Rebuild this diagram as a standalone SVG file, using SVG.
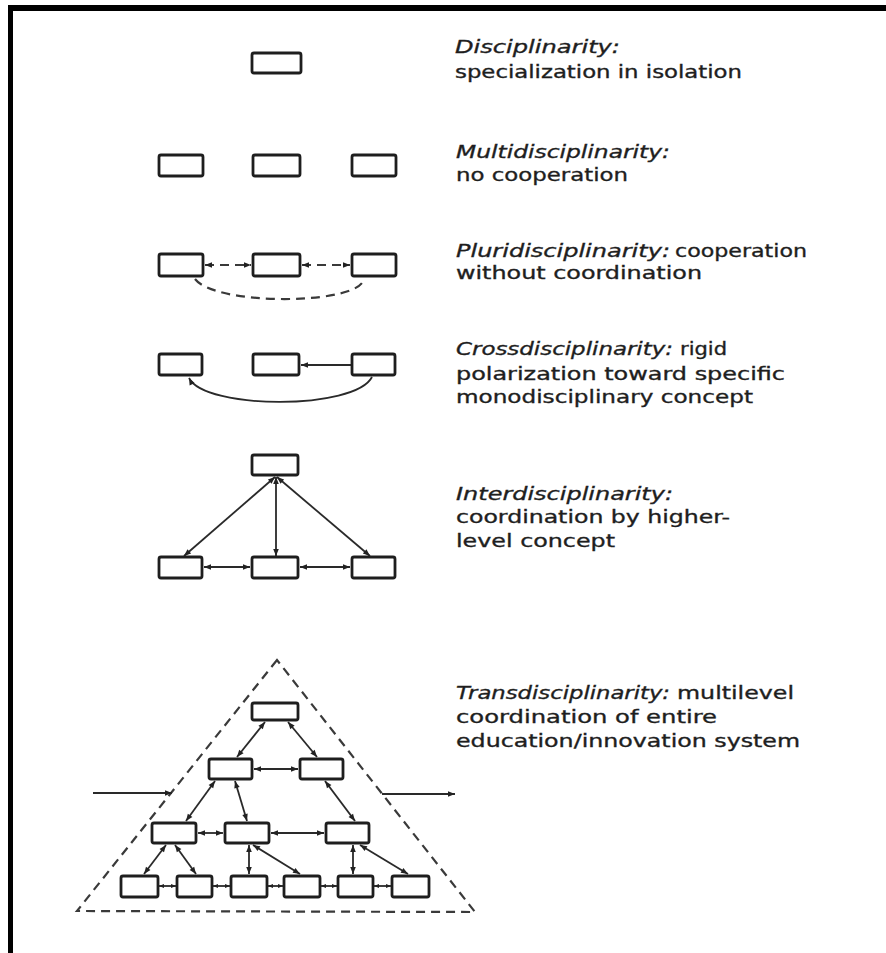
<svg xmlns="http://www.w3.org/2000/svg" width="886" height="953" viewBox="0 0 886 953">
<style>
.bx{fill:#fff;stroke:#1e1e1e;stroke-width:2.8}
.ln{fill:none;stroke:#2a2a2a;stroke-width:1.8}
.ds{fill:none;stroke:#3a3a3a;stroke-width:2.2;stroke-dasharray:9 6}
.t{font-family:"DejaVu Sans","Liberation Sans",sans-serif;font-size:18px;fill:#1e1e1e;stroke:#1e1e1e;stroke-width:0.35}
.i{font-style:italic}
</style>
<defs>
<marker id="ah" viewBox="0 0 10 10" refX="10" refY="5" markerWidth="9" markerHeight="7" markerUnits="userSpaceOnUse" orient="auto-start-reverse"><path d="M0,1 L10,5 L0,9 z" fill="#222"/></marker>
<marker id="as" viewBox="0 0 10 10" refX="10" refY="5" markerWidth="6" markerHeight="5" markerUnits="userSpaceOnUse" orient="auto-start-reverse"><path d="M0,1 L10,5 L0,9 z" fill="#222"/></marker>
</defs>
<rect width="886" height="953" fill="#fff"/>
<g id="frame">
<rect x="8" y="5" width="878" height="6" fill="#000"/>
<rect x="8" y="5" width="5" height="948" fill="#000"/>
</g>

<g id="connectors">
<!-- pluri -->
<line class="ds" x1="205" y1="265" x2="251" y2="265" stroke-dasharray="8 5" marker-start="url(#ah)" marker-end="url(#ah)"/>
<line class="ds" x1="302" y1="265" x2="350" y2="265" stroke-dasharray="8 5" marker-start="url(#ah)" marker-end="url(#ah)"/>
<path class="ds" d="M195,279 C215,305 345,305 362,283" stroke-dasharray="11 6"/>
<!-- cross -->
<line class="ln" x1="352" y1="365" x2="301" y2="365" marker-end="url(#ah)"/>
<path class="ln" d="M372,377 C355,410 205,410 189,378" stroke-width="2.2" marker-end="url(#ah)"/>
<!-- inter -->
<line class="ln" x1="275" y1="477" x2="184" y2="556" marker-start="url(#ah)" marker-end="url(#ah)"/>
<line class="ln" x1="276" y1="477" x2="276" y2="556" marker-start="url(#ah)" marker-end="url(#ah)"/>
<line class="ln" x1="277" y1="477" x2="370" y2="556" marker-start="url(#ah)" marker-end="url(#ah)"/>
<line class="ln" x1="204" y1="567" x2="250" y2="567" marker-start="url(#ah)" marker-end="url(#ah)"/>
<line class="ln" x1="300" y1="567" x2="350" y2="567" marker-start="url(#ah)" marker-end="url(#ah)"/>
<!-- trans -->
<path class="ds" d="M277,660 L77,911 L475,912 Z" stroke-dasharray="13 6"/>
<line class="ln" x1="93" y1="793" x2="172" y2="793" marker-end="url(#ah)"/>
<line class="ln" x1="382" y1="794" x2="455" y2="794" marker-end="url(#ah)"/>
<line class="ln" x1="265" y1="722" x2="237" y2="757" marker-start="url(#ah)" marker-end="url(#ah)"/>
<line class="ln" x1="288" y1="722" x2="317" y2="757" marker-start="url(#ah)" marker-end="url(#ah)"/>
<line class="ln" x1="254" y1="769" x2="298" y2="769" marker-start="url(#ah)" marker-end="url(#ah)"/>
<line class="ln" x1="215" y1="781" x2="186" y2="821" marker-start="url(#ah)" marker-end="url(#ah)"/>
<line class="ln" x1="235" y1="781" x2="247" y2="821" marker-start="url(#ah)" marker-end="url(#ah)"/>
<line class="ln" x1="325" y1="781" x2="355" y2="821" marker-start="url(#ah)" marker-end="url(#ah)"/>
<line class="ln" x1="198" y1="833" x2="223" y2="833" marker-start="url(#ah)" marker-end="url(#ah)"/>
<line class="ln" x1="271" y1="833" x2="324" y2="833" marker-start="url(#ah)" marker-end="url(#ah)"/>
<line class="ln" x1="166" y1="845" x2="144" y2="874" marker-start="url(#ah)" marker-end="url(#ah)"/>
<line class="ln" x1="175" y1="845" x2="196" y2="874" marker-start="url(#ah)" marker-end="url(#ah)"/>
<line class="ln" x1="249" y1="845" x2="249" y2="874" marker-start="url(#ah)" marker-end="url(#ah)"/>
<line class="ln" x1="253" y1="845" x2="300" y2="874" marker-start="url(#ah)" marker-end="url(#ah)"/>
<line class="ln" x1="353" y1="845" x2="353" y2="874" marker-start="url(#ah)" marker-end="url(#ah)"/>
<line class="ln" x1="360" y1="845" x2="408" y2="874" marker-start="url(#ah)" marker-end="url(#ah)"/>
<line class="ln" x1="159" y1="886" x2="176" y2="886" marker-start="url(#as)" marker-end="url(#as)"/>
<line class="ln" x1="213" y1="886" x2="230" y2="886" marker-start="url(#as)" marker-end="url(#as)"/>
<line class="ln" x1="268" y1="886" x2="283" y2="886" marker-start="url(#as)" marker-end="url(#as)"/>
<line class="ln" x1="321" y1="886" x2="337" y2="886" marker-start="url(#as)" marker-end="url(#as)"/>
<line class="ln" x1="374" y1="886" x2="391" y2="886" marker-start="url(#as)" marker-end="url(#as)"/>
</g>

<g id="disciplinarity">
<rect class="bx" x="252" y="53" width="49" height="20" rx="2"/>
<text class="t i" x="455" y="53" textLength="165" lengthAdjust="spacingAndGlyphs">Disciplinarity:</text>
<text class="t" x="455" y="78" textLength="287" lengthAdjust="spacingAndGlyphs">specialization in isolation</text>
</g>

<g id="multidisciplinarity">
<rect class="bx" x="159" y="155" width="44" height="21" rx="2"/>
<rect class="bx" x="253" y="155" width="47" height="21" rx="2"/>
<rect class="bx" x="352" y="155" width="44" height="21" rx="2"/>
<text class="t i" x="456" y="158" textLength="214" lengthAdjust="spacingAndGlyphs">Multidisciplinarity:</text>
<text class="t" x="456" y="181" textLength="172" lengthAdjust="spacingAndGlyphs">no cooperation</text>
</g>

<g id="pluridisciplinarity">
<rect class="bx" x="159" y="254" width="44" height="22" rx="2"/>
<rect class="bx" x="253" y="254" width="47" height="22" rx="2"/>
<rect class="bx" x="352" y="254" width="44" height="22" rx="2"/>
<text class="t i" x="456" y="257" textLength="214" lengthAdjust="spacingAndGlyphs">Pluridisciplinarity:</text>
<text class="t" x="675" y="257" textLength="132" lengthAdjust="spacingAndGlyphs">cooperation</text>
<text class="t" x="456" y="279" textLength="246" lengthAdjust="spacingAndGlyphs">without coordination</text>
</g>

<g id="crossdisciplinarity">
<rect class="bx" x="159" y="354" width="43" height="21" rx="2"/>
<rect class="bx" x="253" y="354" width="46" height="21" rx="2"/>
<rect class="bx" x="352" y="354" width="43" height="21" rx="2"/>
<text class="t i" x="456" y="355" textLength="217" lengthAdjust="spacingAndGlyphs">Crossdisciplinarity:</text>
<text class="t" x="680" y="355" textLength="47" lengthAdjust="spacingAndGlyphs">rigid</text>
<text class="t" x="456" y="380" textLength="329" lengthAdjust="spacingAndGlyphs">polarization toward specific</text>
<text class="t" x="456" y="403" textLength="297" lengthAdjust="spacingAndGlyphs">monodisciplinary concept</text>
</g>

<g id="interdisciplinarity">
<rect class="bx" x="252" y="455" width="46" height="20" rx="2"/>
<rect class="bx" x="159" y="557" width="43" height="21" rx="2"/>
<rect class="bx" x="252" y="557" width="46" height="21" rx="2"/>
<rect class="bx" x="352" y="557" width="43" height="21" rx="2"/>
<text class="t i" x="456" y="500" textLength="217" lengthAdjust="spacingAndGlyphs">Interdisciplinarity:</text>
<text class="t" x="456" y="523" textLength="274" lengthAdjust="spacingAndGlyphs">coordination by higher-</text>
<text class="t" x="456" y="547" textLength="159" lengthAdjust="spacingAndGlyphs">level concept</text>
</g>

<g id="transdisciplinarity">
<rect class="bx" x="252" y="703" width="46" height="17" rx="2"/>
<rect class="bx" x="209" y="759" width="43" height="20" rx="2"/>
<rect class="bx" x="300" y="759" width="43" height="20" rx="2"/>
<rect class="bx" x="152" y="823" width="44" height="20" rx="2"/>
<rect class="bx" x="225" y="823" width="44" height="20" rx="2"/>
<rect class="bx" x="326" y="823" width="43" height="20" rx="2"/>
<rect class="bx" x="121" y="876" width="37" height="21" rx="2"/>
<rect class="bx" x="177" y="876" width="35" height="21" rx="2"/>
<rect class="bx" x="231" y="876" width="36" height="21" rx="2"/>
<rect class="bx" x="284" y="876" width="36" height="21" rx="2"/>
<rect class="bx" x="338" y="876" width="35" height="21" rx="2"/>
<rect class="bx" x="392" y="876" width="37" height="21" rx="2"/>
<text class="t i" x="456" y="699" textLength="214" lengthAdjust="spacingAndGlyphs">Transdisciplinarity:</text>
<text class="t" x="677" y="699" textLength="117" lengthAdjust="spacingAndGlyphs">multilevel</text>
<text class="t" x="456" y="723" textLength="261" lengthAdjust="spacingAndGlyphs">coordination of entire</text>
<text class="t" x="456" y="747" textLength="344" lengthAdjust="spacingAndGlyphs">education/innovation system</text>
</g>
</svg>
